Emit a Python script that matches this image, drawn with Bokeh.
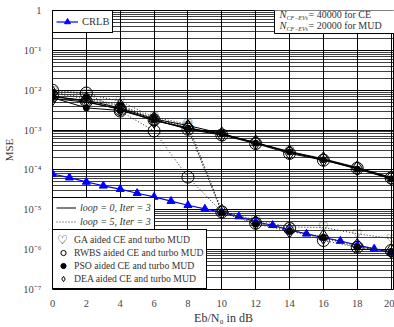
from bokeh.plotting import figure
from bokeh.models import FixedTicker, Legend, LegendItem, Label, BoxAnnotation, ColumnDataSource
from bokeh.core.properties import value
from bokeh.embed import file_html
from bokeh.resources import INLINE

# ---------------- data ----------------
snr = [0, 2, 4, 6, 8, 10, 12, 14, 16, 18, 20]
snr_crlb = list(range(21))
crlb = [7.9e-5, 6.4e-5, 5.0e-5, 4.0e-5, 3.3e-5, 2.6e-5, 2.1e-5, 1.65e-5, 1.3e-5, 1.05e-5,
        8.6e-6, 6.8e-6, 5.0e-6, 4.1e-6, 3.1e-6, 2.5e-6, 2.0e-6, 1.65e-6, 1.3e-6, 1.05e-6, 8.5e-7]

# loop = 0, Iter = 3 (solid)
ga_0 = [6.8e-3, 5.6e-3, 3.6e-3, 1.9e-3, 1.3e-3, 8.2e-4, 4.8e-4, 2.9e-4, 1.9e-4, 1.15e-4, 6.5e-5]
rwbs_0 = [7.2e-3, 5.2e-3, 3.3e-3, 1.8e-3, 1.05e-3, 7.5e-4, 4.6e-4, 2.6e-4, 1.75e-4, 1.1e-4, 6.3e-5]
pso_0 = [6.5e-3, 3.6e-3, 3.1e-3, 1.8e-3, 1.1e-3, 8.0e-4, 4.7e-4, 2.8e-4, 1.8e-4, 1.05e-4, 6.0e-5]
dea_0 = [6.2e-3, 5.0e-3, 3.4e-3, 1.7e-3, 1.15e-3, 7.8e-4, 4.9e-4, 2.75e-4, 1.85e-4, 1.1e-4, 6.2e-5]

# loop = 5, Iter = 3 (dotted)
ga_5 = [9.5e-3, 8.0e-3, 5.3e-3, 2.1e-3, 1.4e-3, 9.5e-6, 5.5e-6, 3.7e-6, 3.6e-6, 2.5e-6, 1.9e-6]
rwbs_5 = [1.0e-2, 8.5e-3, 3.0e-3, 9.5e-4, 6.6e-5, 8.8e-6, 4.6e-6, 3.4e-6, 1.7e-6, 1.15e-6, 9.5e-7]
pso_5 = [9.0e-3, 6.5e-3, 4.2e-3, 2.0e-3, 1.1e-3, 8.6e-6, 4.4e-6, 2.9e-6, 2.0e-6, 1.15e-6, 9.0e-7]
dea_5 = [8.5e-3, 6.0e-3, 4.0e-3, 1.9e-3, 1.2e-3, 9.0e-6, 4.8e-6, 3.0e-6, 2.1e-6, 1.25e-6, 9.2e-7]

x_ticks = [0, 2, 4, 6, 8, 10, 12, 14, 16, 18, 20]
y_ticks = [1e-7, 1e-6, 1e-5, 1e-4, 1e-3, 1e-2, 1e-1, 1.0]
y_tick_labels = ["10⁻⁷", "10⁻⁶", "10⁻⁵", "10⁻⁴", "10⁻³", "10⁻²", "10⁻¹", "1"]

SERIF = "Liberation Serif"
TXT = "#333333"

p = figure(width=394, height=327, y_axis_type="log",
           x_range=(0, 20.2), y_range=(1e-7, 1),
           output_backend="svg", toolbar_location=None,
           min_border_left=50, min_border_right=0, min_border_top=10, min_border_bottom=31)
p.outline_line_color = "black"
p.outline_line_width = 1
p.background_fill_color = "white"

# axes
p.xaxis.ticker = FixedTicker(ticks=x_ticks)
minor = [k * d for d in y_ticks[:-1] for k in range(2, 10)]
p.yaxis.ticker = FixedTicker(ticks=y_ticks, minor_ticks=minor)
p.yaxis.major_label_overrides = {t: s for t, s in zip(y_ticks, y_tick_labels)}
for ax in (p.xaxis[0], p.yaxis[0]):
    ax.axis_line_color = None
    ax.major_tick_line_color = None
    ax.minor_tick_line_color = None
    ax.major_label_text_font = SERIF
    ax.major_label_text_font_size = "10.5px"
    ax.major_label_text_color = "#444444"
    ax.major_label_standoff = 5
    ax.axis_label_text_font = SERIF
    ax.axis_label_text_font_style = "normal"
    ax.axis_label_text_color = TXT
p.xaxis.major_label_standoff = 4
p.yaxis.axis_label = "MSE"
p.yaxis.axis_label_text_font_size = "11px"
p.yaxis.axis_label_standoff = 5
p.xaxis.axis_label = "Eb/N₀ in dB"
p.xaxis.axis_label_text_font_size = "12px"
p.xaxis.axis_label_standoff = 1

# grid
p.xgrid.grid_line_color = "black"
p.xgrid.grid_line_width = 1
p.ygrid.grid_line_color = "black"
p.ygrid.grid_line_width = 1
p.ygrid.minor_grid_line_color = "black"
p.ygrid.minor_grid_line_alpha = 0.75
p.ygrid.minor_grid_line_width = 1

# CRLB
crlb_line = p.line(snr_crlb, crlb, line_color="#0000ff", line_width=1.2)
crlb_pts = p.scatter(snr_crlb, crlb, marker="triangle", size=8,
                     fill_color="#0000ff", line_color="#0000ff")

series = [("GA", ga_0, ga_5), ("RWBS", rwbs_0, rwbs_5), ("PSO", pso_0, pso_5), ("DEA", dea_0, dea_5)]
line_r = {}
mark_r = {}
for name, s0, s5 in series:
    for loop, s in (("0", s0), ("5", s5)):
        if loop == "0":
            lr = p.line(snr, s, line_color="black", line_width=1)
        else:
            lr = p.line(snr, s, line_color="#222222", line_width=1, line_dash="1 2")
        line_r[(name, loop)] = lr
        if name == "GA":
            src = ColumnDataSource(dict(x=snr, y=s, t=["♡"] * len(snr)))
            mr = p.text(x="x", y="y", text="t", source=src, text_align="center",
                        text_baseline="middle", text_font=value("DejaVu Sans"),
                        text_font_size="12px", text_color="black")
        elif name == "RWBS":
            mr = p.scatter(snr, s, marker="circle", size=12, fill_color=None,
                           line_color="black", line_width=1)
        elif name == "PSO":
            mr = p.scatter(snr, s, marker="circle", size=6, fill_color="black",
                           line_color="black")
        else:
            mr = p.scatter(snr, s, marker="diamond", size=15, fill_color=None,
                           line_color="black", line_width=1)
        mark_r[(name, loop)] = mr


def mk_legend(items, location, pad, gh, gw, standoff, spacing=0, size="10px", style="normal",
              font=SERIF, framed=True, color=TXT):
    lg = Legend(items=items, location=location, margin=0, padding=pad, spacing=spacing,
                glyph_height=gh, glyph_width=gw, label_height=gh, label_standoff=standoff,
                label_text_font=font, label_text_font_size=size, label_text_color=color,
                label_text_font_style=style, label_text_baseline="middle",
                border_line_color="black" if framed else None, border_line_width=1,
                border_line_alpha=1, background_fill_color="white",
                background_fill_alpha=1 if framed else 0)
    p.add_layout(lg)
    return lg

mk_legend([LegendItem(label="CRLB", renderers=[crlb_line, crlb_pts])],
          "top_left", 3, 15, 22, 4, size="10.5px")
mk_legend([LegendItem(label="loop = 0, Iter = 3", renderers=[line_r[("GA", "0")]]),
           LegendItem(label="loop = 5, Iter = 3", renderers=[line_r[("GA", "5")]])],
          (0, 57), 3, 13, 20, 4, spacing=1, size="10px", style="italic")
mk_legend([LegendItem(label="GA aided CE and turbo MUD", renderers=[mark_r[("GA", "0")]]),
           LegendItem(label="RWBS aided CE and turbo MUD", renderers=[mark_r[("RWBS", "0")]]),
           LegendItem(label="PSO aided CE and turbo MUD", renderers=[mark_r[("PSO", "0")]]),
           LegendItem(label="DEA aided CE and turbo MUD", renderers=[mark_r[("DEA", "0")]])],
          (0, 0), 3, 13, 14, 4, size="9.7px")
# heart swatch for the GA entry (text glyphs draw no legend swatch): a frameless legend on top
mk_legend([LegendItem(label="♡", renderers=[mark_r[("GA", "0")]])],
          (5, 42), 0, 13, 0, 0, size="12px", font="DejaVu Sans", framed=False, color="black")

# top-right text box
p.add_layout(BoxAnnotation(left=222, right=344, top=285, bottom=256,
                           left_units="screen", right_units="screen",
                           top_units="screen", bottom_units="screen",
                           fill_color="white", fill_alpha=1, line_color="black",
                           line_width=1, line_alpha=1))
for yy, rest in ((275, "= 40000 for CE"), (264, "= 20000 for MUD")):
    p.add_layout(Label(x=227, y=yy, x_units="screen", y_units="screen", text="N",
                       text_font=SERIF, text_font_style="italic", text_font_size="10.5px",
                       text_color=TXT, text_baseline="middle"))
    p.add_layout(Label(x=234, y=yy - 3, x_units="screen", y_units="screen", text="CF−EVs",
                       text_font=SERIF, text_font_style="italic", text_font_size="6px",
                       text_color=TXT, text_baseline="middle"))
    p.add_layout(Label(x=256, y=yy, x_units="screen", y_units="screen", text=rest,
                       text_font=SERIF, text_font_size="10px",
                       text_color=TXT, text_baseline="middle"))

open("out.html", "w").write(file_html(p, INLINE))
